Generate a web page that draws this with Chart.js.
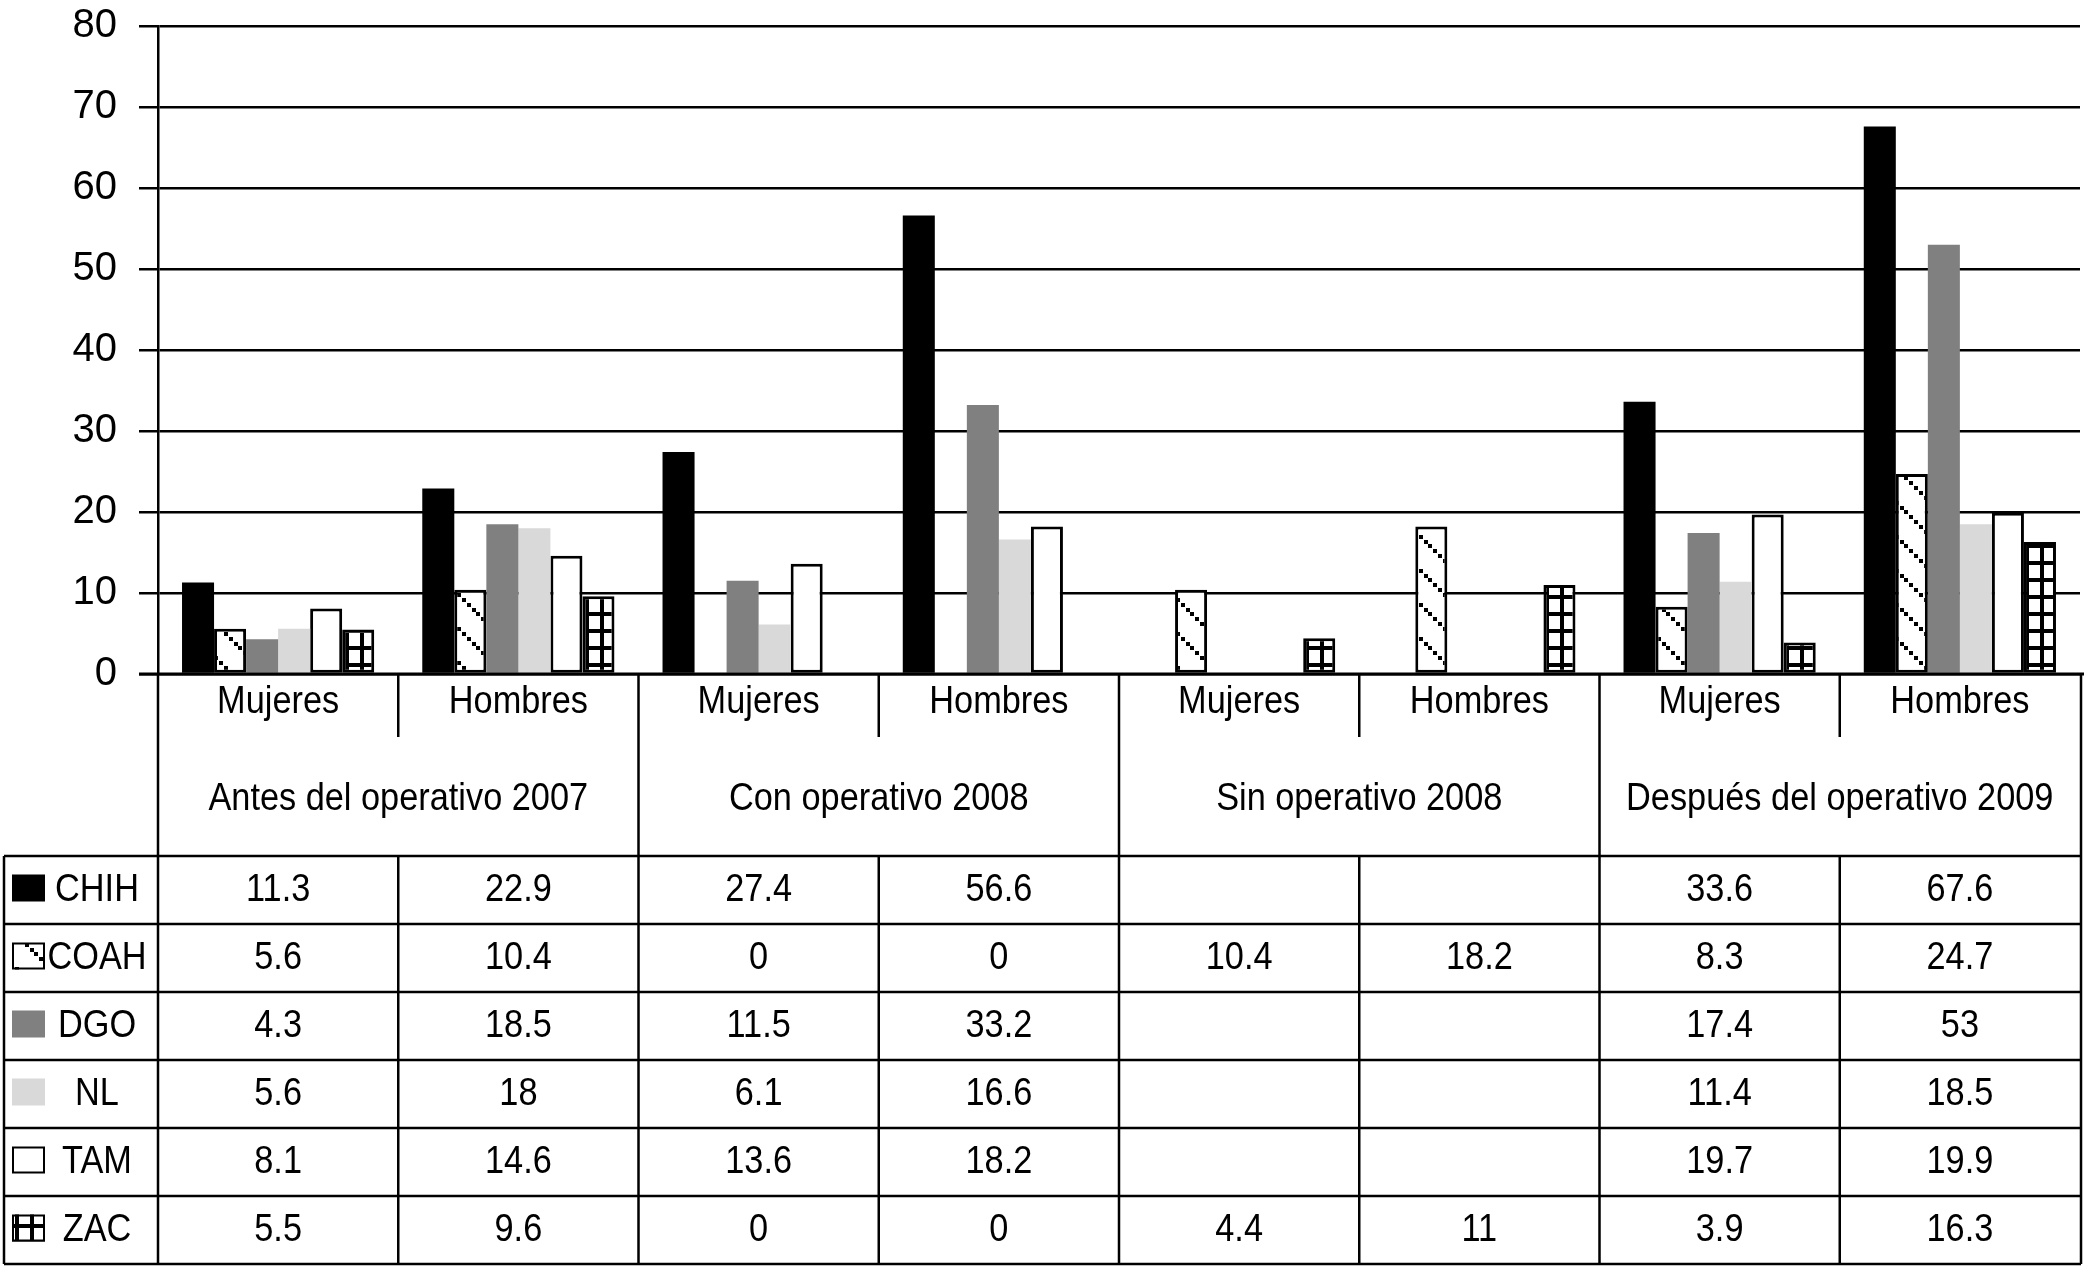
<!DOCTYPE html>
<html>
<head>
<meta charset="utf-8">
<script src="https://cdn.jsdelivr.net/npm/chart.js@4.4.1/dist/chart.umd.min.js"></script>
<style>
  html, body { margin: 0; padding: 0; background: #fff; }
  #wrap { width: 2088px; height: 1272px; position: relative; }
</style>
</head>
<body>
<div id="wrap"><canvas id="chart"></canvas></div>
<script>
// categories and groups
const categories = ['Mujeres', 'Hombres', 'Mujeres', 'Hombres', 'Mujeres', 'Hombres', 'Mujeres', 'Hombres'];
const groups = ['Antes del operativo 2007', 'Con operativo 2008', 'Sin operativo 2008', 'Después del operativo 2009'];

// series (null = empty cell)
const seriesNames = ['CHIH', 'COAH', 'DGO', 'NL', 'TAM', 'ZAC'];
const chih = [11.3, 22.9, 27.4, 56.6, null, null, 33.6, 67.6];
const coah = [5.6, 10.4, 0, 0, 10.4, 18.2, 8.3, 24.7];
const dgo  = [4.3, 18.5, 11.5, 33.2, null, null, 17.4, 53];
const nl   = [5.6, 18, 6.1, 16.6, null, null, 11.4, 18.5];
const tam  = [8.1, 14.6, 13.6, 18.2, null, null, 19.7, 19.9];
const zac  = [5.5, 9.6, 0, 0, 4.4, 11, 3.9, 16.3];

// y axis
const yMin = 0;
const yMax = 80;
const yStep = 10;

const FONT = 'Liberation Sans, Arial, sans-serif';
const SQUEEZE = 0.88;

// hatch for COAH: dotted diagonal lines
function makeDiagPattern() {
  const c = document.createElement('canvas');
  c.width = 34; c.height = 34;
  const g = c.getContext('2d');
  g.fillStyle = '#fff';
  g.fillRect(0, 0, 34, 34);
  g.fillStyle = '#000';
  for (let i = 0; i < 34; i += 5) g.fillRect(i, i, 4, 4);
  return g.createPattern(c, 'repeat');
}

// grid for ZAC
function makeGridPattern() {
  const c = document.createElement('canvas');
  c.width = 15; c.height = 17;
  const g = c.getContext('2d');
  g.fillStyle = '#fff';
  g.fillRect(0, 0, 15, 17);
  g.fillStyle = '#000';
  g.fillRect(0, 0, 4, 17);
  g.fillRect(0, 0, 15, 4);
  return g.createPattern(c, 'repeat');
}

const diagPattern = makeDiagPattern();
const gridPattern = makeGridPattern();

const fills = ['#000000', diagPattern, '#808080', '#d9d9d9', '#ffffff', gridPattern];
const bordered = [false, true, false, false, true, true];
const values = [chih, coah, dgo, nl, tam, zac];

const datasets = seriesNames.map((name, i) => ({
  label: name,
  data: values[i],
  backgroundColor: fills[i],
  borderColor: '#000',
  borderWidth: ctx => (bordered[i] && ctx.raw) ? 3 : 0,
  borderSkipped: false,
  categoryPercentage: 0.8,
  barPercentage: 1.0
}));

function squeezedText(ctx, text, x, y, align) {
  ctx.save();
  ctx.translate(x, y);
  ctx.scale(SQUEEZE, 1);
  ctx.textAlign = align || 'center';
  ctx.textBaseline = 'alphabetic';
  ctx.fillText(text, 0, 0);
  ctx.restore();
}

const TABLE = {
  labelBase: 713,
  sepBottom: 737,
  groupBase: 810,
  tableTop: 856,
  rowH: 68,
  leftEdge: 4
};

const tablePlugin = {
  id: 'dataTable',
  afterDatasetsDraw(chart) {
    const ctx = chart.ctx;
    const area = chart.chartArea;
    const xs = chart.scales.x;
    const n = categories.length;
    const w = (area.right - area.left) / n;
    const bottom = TABLE.tableTop + TABLE.rowH * seriesNames.length;
    const rightEdge = area.right + 1;

    ctx.save();
    ctx.strokeStyle = '#000';
    ctx.fillStyle = '#000';
    ctx.lineWidth = 3;

    // baseline
    ctx.beginPath();
    ctx.moveTo(area.left - 19, area.bottom);
    ctx.lineTo(area.right + 4, area.bottom);
    ctx.stroke();

    ctx.lineWidth = 2.5;
    ctx.beginPath();
    // axis line continued down
    ctx.moveTo(area.left, area.bottom);
    ctx.lineTo(area.left, bottom);
    // category boundaries
    for (let i = 1; i < n; i++) {
      const x = area.left + i * w;
      if (i % 2 === 1) {
        ctx.moveTo(x, area.bottom);
        ctx.lineTo(x, TABLE.sepBottom);
        ctx.moveTo(x, TABLE.tableTop);
        ctx.lineTo(x, bottom);
      } else {
        ctx.moveTo(x, area.bottom);
        ctx.lineTo(x, bottom);
      }
    }
    // right border
    ctx.moveTo(rightEdge, area.bottom);
    ctx.lineTo(rightEdge, bottom);
    // left border
    ctx.moveTo(TABLE.leftEdge, TABLE.tableTop);
    ctx.lineTo(TABLE.leftEdge, bottom);
    // row lines
    for (let r = 0; r <= seriesNames.length; r++) {
      const y = TABLE.tableTop + r * TABLE.rowH;
      ctx.moveTo(TABLE.leftEdge, y);
      ctx.lineTo(rightEdge, y);
    }
    ctx.stroke();

    ctx.font = '39px ' + FONT;

    // category labels
    categories.forEach((c, i) => {
      squeezedText(ctx, c, xs.getPixelForValue(i), TABLE.labelBase);
    });
    // group labels
    groups.forEach((g, i) => {
      const gx = area.left + (i * 2 + 1) * w;
      squeezedText(ctx, g, gx, TABLE.groupBase);
    });

    // rows
    seriesNames.forEach((name, r) => {
      const top = TABLE.tableTop + r * TABLE.rowH;
      const cy = top + TABLE.rowH / 2;
      // swatch
      const sx = 12, sw = 33, sh = 27, sy = cy - sh / 2 - 2;
      ctx.fillStyle = fills[r];
      ctx.fillRect(sx, sy, sw, sh);
      if (bordered[r]) {
        ctx.lineWidth = 2;
        ctx.strokeRect(sx + 1, sy + 1, sw - 2, sh - 2);
      }
      ctx.fillStyle = '#000';
      squeezedText(ctx, name, 97, cy + 11);
      values[r].forEach((v, i) => {
        if (v === null) return;
        squeezedText(ctx, String(v), xs.getPixelForValue(i), cy + 11);
      });
    });

    ctx.restore();
  }
};

new Chart(document.getElementById('chart'), {
  type: 'bar',
  data: { labels: categories, datasets: datasets },
  options: {
    responsive: true,
    maintainAspectRatio: false,
    animation: false,
    layout: { padding: { top: 26, right: 8, bottom: 598, left: 0 } },
    plugins: {
      legend: { display: false },
      tooltip: { enabled: false }
    },
    scales: {
      x: {
        display: false,
        offset: true,
        grid: { display: false }
      },
      y: {
        min: yMin,
        max: yMax,
        ticks: {
          stepSize: yStep,
          color: '#000',
          padding: 22,
          font: { family: FONT, size: 40 }
        },
        grid: {
          color: '#000',
          lineWidth: 2.5,
          tickLength: 19,
          drawTicks: true
        },
        border: { display: true, color: '#000', width: 2.5 },
        afterFit(scale) {
          scale.width = 158;
          scale.paddingTop = 0;
          scale.paddingBottom = 0;
        }
      }
    }
  },
  plugins: [tablePlugin]
});
</script>
</body>
</html>
